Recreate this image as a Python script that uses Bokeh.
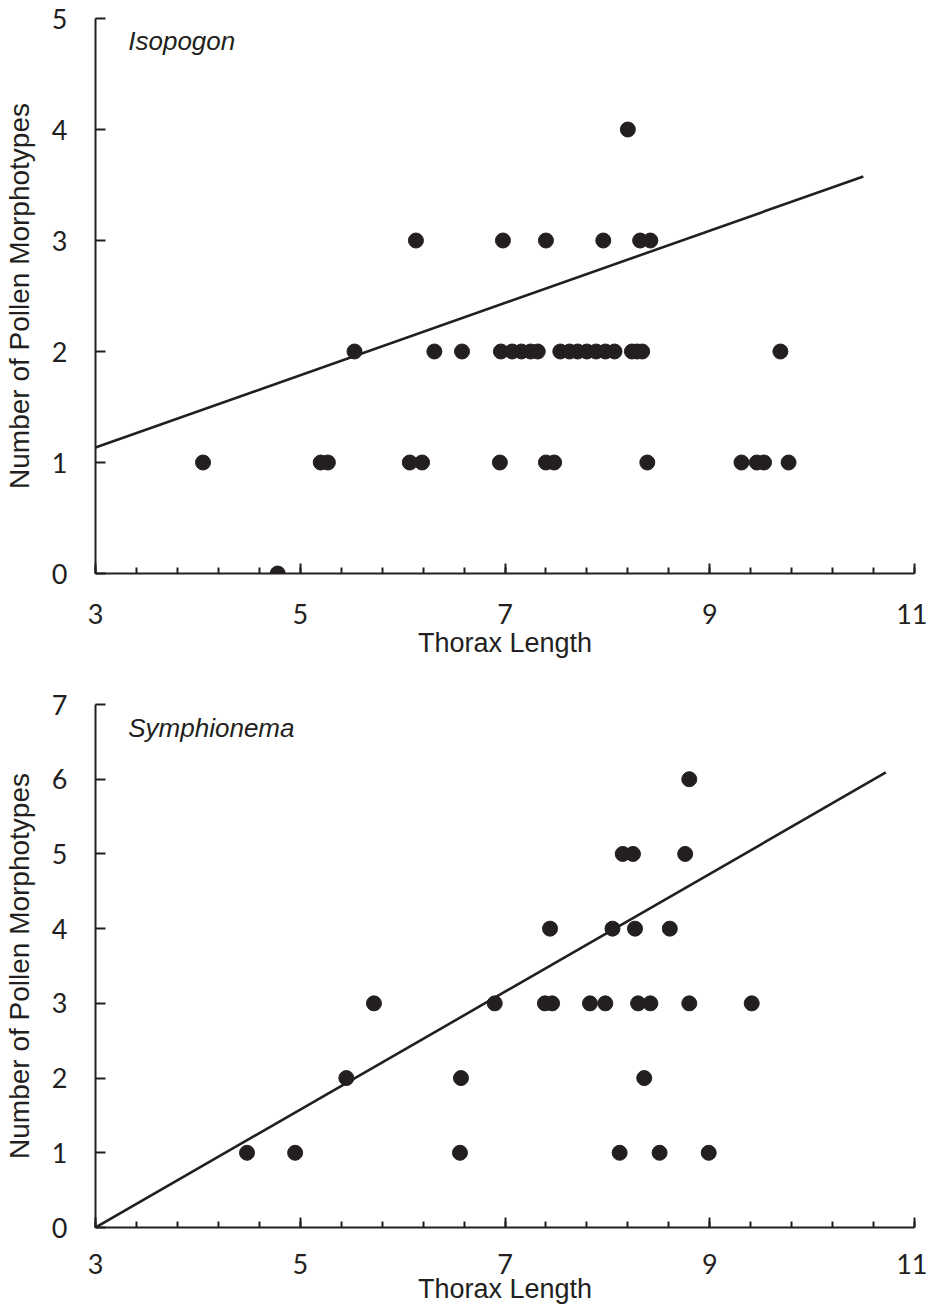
import numpy as np
from bokeh.plotting import figure
from bokeh.layouts import column
from bokeh.models import Range1d, FixedTicker, Label
from bokeh.embed import file_html
from bokeh.resources import INLINE

# ---------------- data ----------------
# Isopogon
iso_x = [4.78,
         4.05, 5.20, 5.27, 6.07, 6.19, 6.95, 7.40, 7.48, 8.39, 9.31, 9.46, 9.53, 9.77,
         5.53, 6.31, 6.58, 6.96, 7.07, 7.16, 7.25, 7.32, 7.54, 7.63, 7.71, 7.80, 7.89,
         7.98, 8.07, 8.24, 8.29, 8.34, 9.69,
         6.13, 6.98, 7.40, 7.96, 8.32, 8.42,
         8.20]
iso_y = [0,
         1, 1, 1, 1, 1, 1, 1, 1, 1, 1, 1, 1, 1,
         2, 2, 2, 2, 2, 2, 2, 2, 2, 2, 2, 2, 2,
         2, 2, 2, 2, 2, 2,
         3, 3, 3, 3, 3, 3,
         4]
iso_fit_x = [3.0, 10.5]
iso_fit_y = [1.135, 3.577]

# Symphionema
sym_x = [4.48, 4.95, 6.56, 8.12, 8.51, 8.99,
         5.45, 6.57, 8.36,
         5.72, 6.90, 7.39, 7.46, 7.83, 7.98, 8.30, 8.42, 8.80, 9.41,
         7.44, 8.05, 8.27, 8.61,
         8.15, 8.25, 8.76,
         8.80]
sym_y = [1, 1, 1, 1, 1, 1,
         2, 2, 2,
         3, 3, 3, 3, 3, 3, 3, 3, 3, 3,
         4, 4, 4, 4,
         5, 5, 5,
         6]
sym_fit_x = [3.0, 10.72]
sym_fit_y = [0.0, 6.09]

x_ticks = [3, 5, 7, 9, 11]
iso_y_ticks = [0, 1, 2, 3, 4, 5]
sym_y_ticks = [0, 1, 2, 3, 4, 5, 6, 7]
x_title = "Thorax Length"
y_title = "Number of Pollen Morphotypes"

INK = "#231f20"
TICK_FONT = "Lato"
TITLE_FONT = "Liberation Sans"


def make_panel(xs, ys, fx, fy, yticks, name, height, top, bottom, name_y,
               tick_standoff, title_standoff):
    p = figure(width=927, height=height, output_backend="svg", toolbar_location=None,
               x_range=Range1d(3, 11), y_range=Range1d(0, yticks[-1]),
               min_border_left=91, min_border_right=13,
               min_border_top=top, min_border_bottom=bottom)
    p.outline_line_color = None
    p.grid.visible = False
    p.background_fill_color = "white"
    p.border_fill_color = "white"

    p.line(fx, fy, line_color=INK, line_width=2.6)
    p.scatter(xs, ys, size=15, fill_color=INK, line_color=INK)

    minor = list(np.round(np.arange(3, 11.001, 0.4), 2))
    xa = p.xaxis[0]
    xa.ticker = FixedTicker(ticks=x_ticks, minor_ticks=minor)
    ya = p.yaxis[0]
    ya.ticker = FixedTicker(ticks=yticks)
    for ax in (xa, ya):
        ax.axis_line_color = INK
        ax.axis_line_width = 2
        ax.major_tick_line_color = INK
        ax.major_tick_line_width = 2
        ax.minor_tick_line_color = INK
        ax.minor_tick_line_width = 2
        ax.major_tick_out = 0
        ax.major_tick_in = 10
        ax.minor_tick_out = 0
        ax.minor_tick_in = 6
        ax.major_label_text_font = TICK_FONT
        ax.major_label_text_font_size = "27px"
        ax.major_label_text_color = INK
        ax.axis_label_text_font = TITLE_FONT
        ax.axis_label_text_font_style = "normal"
        ax.axis_label_text_color = INK
    xa.axis_label_text_font_size = "27px"
    ya.axis_label_text_font_size = "28px"
    ya.minor_tick_line_color = None
    xa.axis_label = x_title
    ya.axis_label = y_title
    xa.major_label_standoff = tick_standoff
    xa.axis_label_standoff = title_standoff
    ya.major_label_standoff = 28
    ya.axis_label_standoff = 14

    p.add_layout(Label(x=3.32, y=name_y, text=name, text_font=TITLE_FONT,
                       text_font_style="italic", text_font_size="26px",
                       text_color=INK, text_baseline="alphabetic"))
    return p


p1 = make_panel(iso_x, iso_y, iso_fit_x, iso_fit_y, iso_y_ticks, "Isopogon",
                660, 18, 87, 4.80, 30, 1)
p2 = make_panel(sym_x, sym_y, sym_fit_x, sym_fit_y, sym_y_ticks, "Symphionema",
                646, 44, 79, 6.68, 26, -3)

layout = column(p1, p2, spacing=0)
open("out.html", "w").write(file_html(layout, INLINE))
